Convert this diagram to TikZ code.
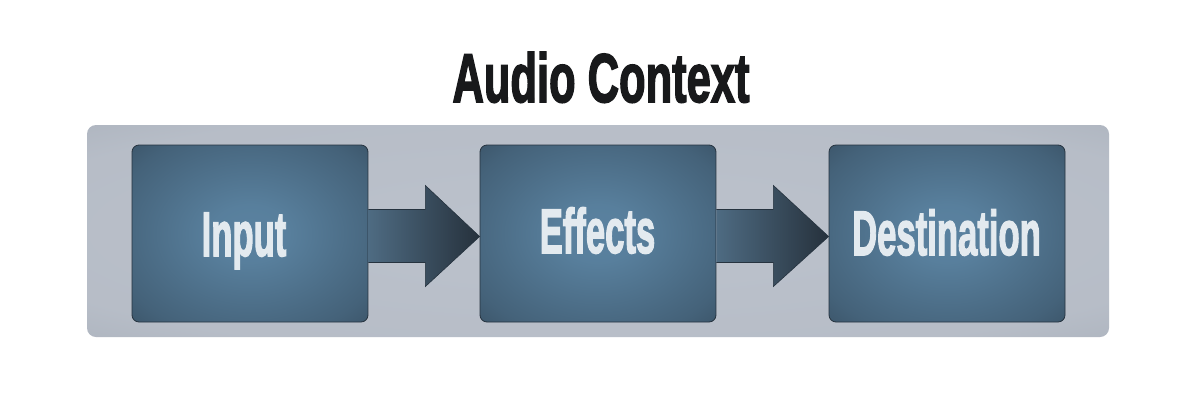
\documentclass[tikz,border=0pt]{standalone}
\usepackage{fontspec}
\usetikzlibrary{calc}
\newfontfamily\heavyfont{Liberation Sans Bold}[FakeBold=2.6]
\definecolor{boxin}{HTML}{5A82A0}
\definecolor{boxout}{HTML}{2A3B4A}
\definecolor{panelin}{HTML}{BCC2CC}
\definecolor{panelout}{HTML}{98A0AB}
\definecolor{arrowleft}{HTML}{4E6B82}
\definecolor{arrowright}{HTML}{26313C}
\definecolor{edgecol}{HTML}{26333F}
\definecolor{labelcol}{HTML}{E3EAEF}
\definecolor{titlecol}{HTML}{18191B}
\pgfdeclareradialshading{boxshade}{\pgfpoint{0bp}{0bp}}{color(0bp)=(boxin); color(8bp)=(boxin!96!boxout); color(30bp)=(boxin!55!boxout); color(50bp)=(boxout); color(70bp)=(boxout)}
\pgfdeclareradialshading{panelshade}{\pgfpoint{0bp}{0bp}}{color(0bp)=(panelin); color(30bp)=(panelin!85!panelout); color(55bp)=(panelout); color(70bp)=(panelout)}
\tikzset{
  stagebox/.style={rectangle, rounded corners=7pt, shading=boxshade, draw=edgecol, line width=0.8pt, minimum width=236pt, minimum height=177pt, inner sep=0pt},
  stagelabel/.style={anchor=base, text=labelcol, font=\heavyfont\fontsize{63}{63}\selectfont, inner sep=0pt},
  blockarrow/.style={left color=arrowleft, right color=arrowright, draw=edgecol, line width=0.6pt},
}
\begin{document}
\begin{tikzpicture}[x=1pt,y=-1pt]
\useasboundingbox (0,0) rectangle (1200,400);
\fill[white] (0,0) rectangle (1200,400);
% panel
\node[rectangle, rounded corners=9pt, shading=panelshade, minimum width=1022pt, minimum height=212pt, inner sep=0pt] (panel) at (598,231) {};
% title
\node[anchor=base, text=titlecol, font=\heavyfont\fontsize{69}{69}\selectfont, inner sep=0pt] (title) at (601,102) {\scalebox{0.63}[1]{Audio Context}};
% boxes
\node[stagebox] (in) at (250,233.5) {};
\node[stagebox] (eff) at (598,233.5) {};
\node[stagebox] (dest) at (947,233.5) {};
% arrows
\draw[blockarrow] ($(in.east)+(0,-24)$) -- ($(in.east)+(57,-24)$) -- ($(in.east)+(57,-48)$) -- ($(eff.west)+(0,3)$) -- ($(in.east)+(57,53)$) -- ($(in.east)+(57,29)$) -- ($(in.east)+(0,29)$);
\draw[blockarrow] ($(eff.east)+(0,-24)$) -- ($(eff.east)+(57,-24)$) -- ($(eff.east)+(57,-48)$) -- ($(dest.west)+(0,3)$) -- ($(eff.east)+(57,53)$) -- ($(eff.east)+(57,29)$) -- ($(eff.east)+(0,29)$);
% labels
\node[stagelabel] (inlabel) at (244,256) {\scalebox{0.55}[1]{Input}};
\node[stagelabel] (efflabel) at (597.5,253) {\scalebox{0.55}[1]{Effects}};
\node[stagelabel] (destlabel) at (946.5,255) {\scalebox{0.55}[1]{Destination}};
\end{tikzpicture}
\end{document}
